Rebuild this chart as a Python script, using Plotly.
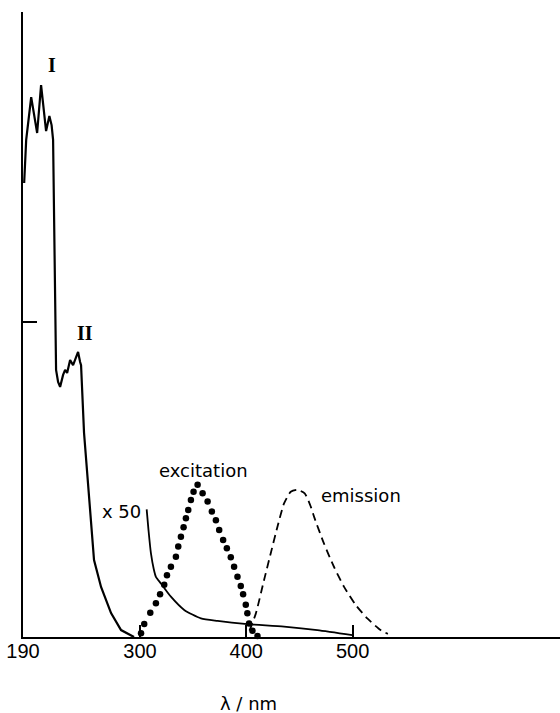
import plotly.graph_objects as go

# Absorption spectrum (arbitrary absorbance units, tick at 1.0)
abs_x = [191.1, 193.0, 197.7, 203.3, 207.0, 211.7, 214.8, 216.9, 218.3, 219.2, 220.2, 221.1,
         223.0, 224.9, 227.7, 229.6, 231.5, 234.3, 237.1, 240.0, 241.8, 243.7, 244.6,
         247.4, 252.1, 256.8, 263.4, 272.8, 282.2, 294.4]
abs_y = [1.441, 1.578, 1.714, 1.600, 1.752, 1.606, 1.654, 1.625, 1.578, 1.387, 1.070, 0.848,
         0.810, 0.794, 0.832, 0.848, 0.838, 0.879, 0.863, 0.892, 0.905, 0.873, 0.863,
         0.648, 0.435, 0.244, 0.159, 0.076, 0.022, 0.0]

# x50 expanded absorption tail
x50_x = [306.3, 308.0, 310.3, 313.0, 315.0, 319.7, 329.1, 341.6, 357.3, 373.0, 401.0, 435.5, 466.8, 499.7]
x50_y = [0.405, 0.340, 0.266, 0.215, 0.191, 0.170, 0.128, 0.086, 0.059, 0.051, 0.041, 0.033, 0.022, 0.006]

# Excitation spectrum (dotted)
exc_x = [301.0, 304.0, 309.7, 315.0, 318.9, 322.8, 325.4, 329.1, 333.8, 336.0, 338.5, 341.0,
         343.2, 345.4, 347.9, 350.4, 354.2, 358.9, 363.6, 367.6, 371.4, 374.5, 378.2, 381.7,
         385.4, 388.5, 391.7, 394.8, 397.0, 399.5, 401.0, 402.6, 405.8, 410.5]
exc_y = [0.012, 0.041, 0.077, 0.107, 0.136, 0.166, 0.196, 0.223, 0.255, 0.287, 0.318, 0.348,
         0.377, 0.403, 0.435, 0.461, 0.483, 0.456, 0.430, 0.398, 0.371, 0.340, 0.308, 0.282,
         0.253, 0.223, 0.191, 0.162, 0.136, 0.102, 0.075, 0.043, 0.020, 0.003]

# Emission spectrum (dashed)
emi_x = [403.0, 409.0, 416.7, 423.0, 429.3, 435.5, 441.8, 448.0, 454.9, 460.6, 463.7, 473.0,
         482.4, 491.8, 502.8, 513.8, 526.3, 533.1]
emi_y = [0.020, 0.075, 0.181, 0.266, 0.350, 0.424, 0.461, 0.467, 0.456, 0.414, 0.382, 0.297,
         0.223, 0.160, 0.102, 0.059, 0.022, 0.010]

x_tickvals = [190, 300, 400, 500]
x_ticktext = ["190", "300", "400", "500"]
y_tickvals = [1.0]

fig = go.Figure()
fig.add_trace(go.Scatter(x=abs_x, y=abs_y, mode="lines",
                         line=dict(color="black", width=2.2), cliponaxis=False))
fig.add_trace(go.Scatter(x=x50_x, y=x50_y, mode="lines",
                         line=dict(color="black", width=1.8, shape="spline", smoothing=0.6),
                         cliponaxis=False))
fig.add_trace(go.Scatter(x=exc_x, y=exc_y, mode="markers",
                         marker=dict(color="black", size=6.5), cliponaxis=False))
fig.add_trace(go.Scatter(x=emi_x, y=emi_y, mode="lines",
                         line=dict(color="black", width=1.8, dash="8px,5px", shape="spline", smoothing=0.6),
                         cliponaxis=False))

lab_font = dict(family="DejaVu Sans", size=18, color="black")
rom_font = dict(family="Liberation Serif", size=20, color="black")
annots = [
    dict(x=217.3, y=1.816, text="<b>I</b>", font=rom_font),
    dict(x=248.3, y=0.965, text="<b>II</b>", font=rom_font),
    dict(x=302.8, y=0.397, text="x 50", font=lab_font, xanchor="right"),
    dict(x=359.3, y=0.530, text="excitation", font=lab_font),
    dict(x=507.8, y=0.448, text="emission", font=lab_font),
]
for a in annots:
    a.setdefault("xanchor", "center")
    fig.add_annotation(xref="x", yref="y", showarrow=False, yanchor="middle", **a)

fig.add_annotation(xref="paper", yref="paper", x=0.419, y=-0.107, text="λ / nm",
                   showarrow=False, xanchor="center", yanchor="middle",
                   font=dict(family="DejaVu Sans", size=18, color="black"))

fig.update_layout(
    width=560, height=713,
    margin=dict(l=23, r=0, t=12, b=76),
    paper_bgcolor="white", plot_bgcolor="white",
    showlegend=False,
    xaxis=dict(range=[190, 695], tickvals=x_tickvals, ticktext=x_ticktext,
               ticks="inside", ticklen=12, tickwidth=1.6, tickcolor="black",
               ticklabelstandoff=-5,
               showline=True, linecolor="black", linewidth=2,
               showgrid=False, zeroline=False,
               tickfont=dict(family="Liberation Sans", size=20, color="black")),
    yaxis=dict(range=[0, 1.984], tickvals=y_tickvals, showticklabels=False,
               ticks="inside", ticklen=14, tickwidth=1.6, tickcolor="black",
               showline=True, linecolor="black", linewidth=2,
               showgrid=False, zeroline=False),
)

fig.write_html("out.html", config={"displayModeBar": False},
               post_script="document.body.style.margin='0';document.body.style.overflow='hidden';")
